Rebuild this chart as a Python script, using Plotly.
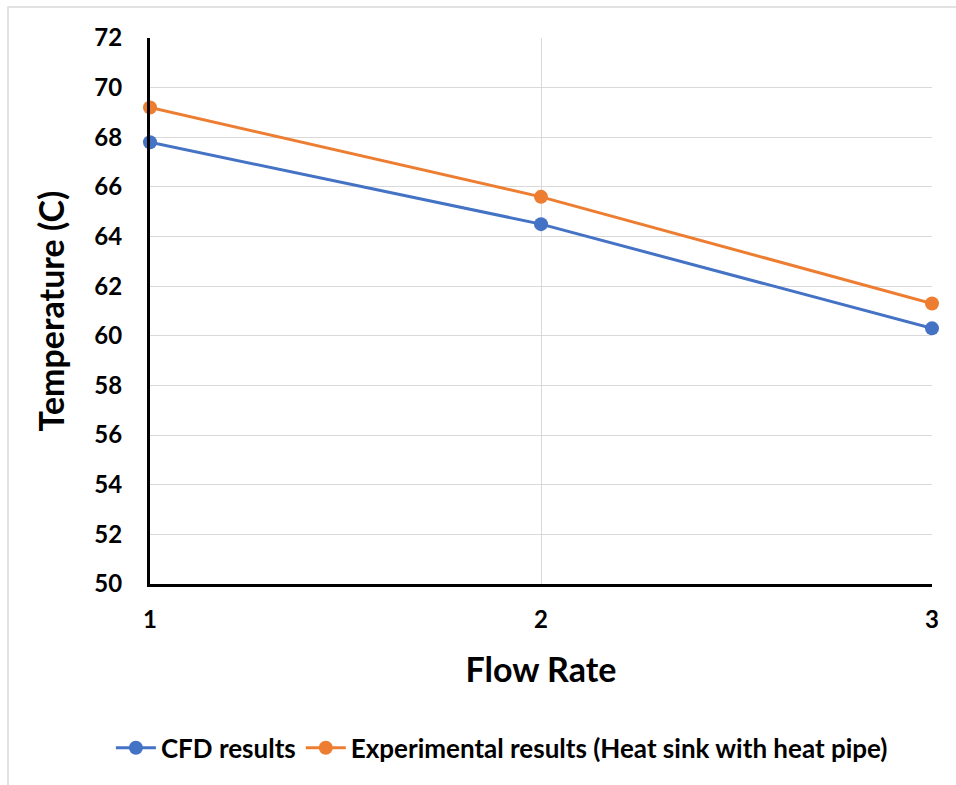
import plotly.graph_objects as go

flow_rate = [1, 2, 3]
cfd = [67.8, 64.5, 60.3]
experimental = [69.2, 65.6, 61.3]
series_names = ["CFD results", "Experimental results (Heat sink with heat pipe)"]
y_ticks = list(range(50, 73, 2))

FONT = "Lato"

fig = go.Figure()
fig.add_trace(go.Scatter(
    x=flow_rate, y=cfd, name=series_names[0], mode="lines+markers",
    line=dict(color="#4472C4", width=3), marker=dict(size=14, color="#4472C4"),
    cliponaxis=False))
fig.add_trace(go.Scatter(
    x=flow_rate, y=experimental, name=series_names[1], mode="lines+markers",
    line=dict(color="#ED7D31", width=3), marker=dict(size=14, color="#ED7D31"),
    cliponaxis=False))

fig.update_layout(
    width=956, height=785,
    margin=dict(l=150, r=24, t=38, b=201),
    paper_bgcolor="white", plot_bgcolor="white",
    font=dict(family=FONT, color="black"),
    showlegend=True,
    legend=dict(orientation="h", x=0.45, xanchor="center", y=-0.3, yanchor="middle",
                font=dict(size=26, family=FONT, weight="bold"), itemwidth=40,
                traceorder="normal"),
    xaxis=dict(range=[1, 3], tickvals=flow_rate, ticktext=[str(v) for v in flow_rate],
               showgrid=True, gridcolor="#D9D9D9", gridwidth=1,
               showline=True, linecolor="black", linewidth=3,
               ticks="", ticklabelstandoff=12, zeroline=False,
               tickfont=dict(size=24, family=FONT, weight="bold"),
               title=dict(text="Flow Rate", standoff=27,
                          font=dict(size=34, family=FONT, weight="bold"))),
    yaxis=dict(range=[50, 72], tickvals=y_ticks, ticktext=[str(v) for v in y_ticks],
               showgrid=True, gridcolor="#D9D9D9", gridwidth=1,
               showline=True, linecolor="black", linewidth=3,
               ticks="", ticklabelstandoff=20, zeroline=False,
               tickfont=dict(size=24, family=FONT, weight="bold"),
               title=dict(text="Temperature (C)", standoff=20,
                          font=dict(size=34, family=FONT, weight="bold"))),
    shapes=[dict(type="rect", xref="paper", yref="paper",
                 x0=(8 - 150) / 782, x1=(970 - 150) / 782,
                 y0=(584 - 800) / 546, y1=(584 - 7) / 546,
                 line=dict(color="#D9D9D9", width=1.5), layer="below")],
)

fig.write_html("out.html")
